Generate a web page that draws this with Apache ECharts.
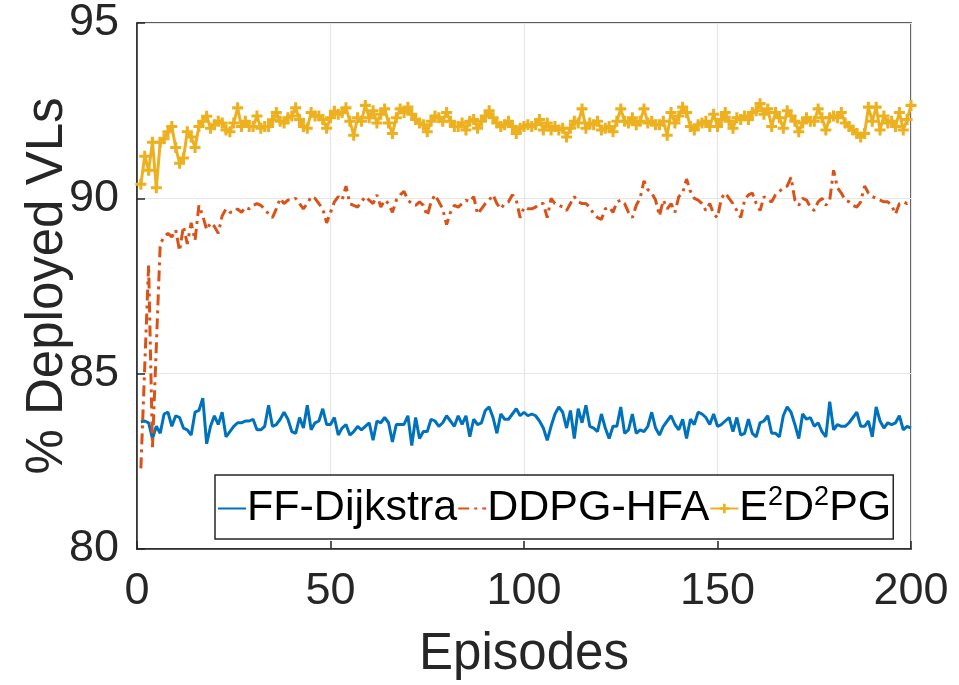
<!DOCTYPE html>
<html>
<head>
<meta charset="utf-8">
<script src="https://cdn.jsdelivr.net/npm/echarts@6/dist/echarts.min.js"></script>
<style>html,body{margin:0;padding:0;background:#fff}#c{width:959px;height:685px}</style>
</head>
<body>
<div id="c"></div>
<script>
const seriesNames = ['FF-Dijkstra', 'DDPG-HFA', 'E2D2PG'];
const xTicks = [0, 50, 100, 150, 200];
const yTicks = [80, 85, 90, 95];

const ffDijkstra = [
83.63,83.65,83.6,83.15,83.5,83.3,83.85,83.9,83.5,83.8,83.75,83.45,83.4,83.25,83.9,83.95,84.3,83.0,83.5,83.8,
83.55,83.9,83.2,83.35,83.5,83.6,83.6,83.65,83.65,83.7,83.4,83.4,83.5,84.1,83.5,83.55,83.7,83.9,83.7,83.35,
83.3,83.75,83.45,84.1,83.4,83.6,83.65,84.0,83.55,83.55,83.75,83.25,83.45,83.55,83.25,83.35,83.5,83.4,83.5,83.6,
83.1,83.65,83.6,83.75,83.6,83.05,83.55,83.55,83.55,83.8,82.95,83.75,83.15,83.35,83.35,83.7,83.65,83.5,83.6,83.8,
83.65,83.5,83.8,83.55,83.8,83.2,83.7,83.55,83.6,83.95,84.05,83.75,83.3,83.85,83.7,83.7,83.85,84.0,83.8,83.9,
83.8,83.85,83.8,83.65,83.45,83.1,83.5,83.85,84.05,83.9,83.45,83.95,83.15,84.0,83.6,84.1,83.5,83.45,83.35,83.85,
83.45,83.15,83.5,83.5,84.05,83.3,83.4,83.85,83.3,83.4,83.35,83.5,83.9,83.45,83.25,83.5,83.65,83.8,83.55,83.4,
83.7,83.15,83.7,83.55,83.9,83.85,83.75,83.55,83.85,83.5,83.55,83.65,83.75,83.35,83.75,83.25,83.3,83.7,83.3,83.2,
83.6,83.65,83.8,83.3,83.3,83.2,83.8,84.05,83.9,83.55,83.15,83.85,83.7,83.75,83.5,83.6,83.35,83.2,84.2,83.4,
83.55,83.5,83.5,83.6,83.75,83.9,83.5,83.5,83.65,83.2,84.05,83.65,83.45,83.6,83.55,83.6,83.8,83.4,83.5,83.45
];

const ddpgHfa = [
82.3,85.2,88.1,82.9,85.8,88.7,88.9,89.0,88.9,89.1,88.5,89.2,88.7,89.3,88.8,89.8,89.5,89.1,89.3,89.2,
89.0,89.5,89.7,89.6,89.6,89.7,89.6,89.75,89.7,89.8,89.85,89.8,89.7,89.55,89.45,89.7,90.0,89.85,89.95,89.95,
90.0,89.85,89.7,89.85,90.05,90.0,89.85,89.7,89.3,89.6,89.9,90.05,89.95,90.35,89.85,89.8,89.75,89.9,90.05,89.95,
89.85,90.1,89.75,89.95,89.85,89.6,89.95,90.1,90.2,89.95,89.85,89.8,89.9,89.8,89.5,89.9,90.1,89.9,89.7,89.25,
89.6,89.8,89.75,89.85,89.95,89.9,90.05,89.55,89.7,89.85,89.95,90.1,89.85,89.7,89.85,89.9,90.1,89.95,89.45,89.75,
89.7,89.7,89.75,89.85,89.85,89.45,90.0,89.85,89.8,89.75,89.65,89.85,90.05,89.9,89.85,89.85,89.75,89.55,89.45,89.4,
89.7,89.75,89.6,89.9,89.95,89.85,89.6,89.45,89.8,90.0,90.5,90.25,90.15,89.95,89.5,89.95,89.7,89.85,89.6,90.05,
90.15,90.55,90.2,90.0,89.95,89.85,89.65,89.85,89.55,89.45,90.0,90.15,90.0,89.85,89.65,89.45,89.95,90.1,90.15,89.85,
89.65,90.05,89.95,89.9,90.1,90.2,90.3,90.35,90.6,89.95,89.8,90.0,89.95,89.75,89.65,89.9,90.0,89.8,89.95,90.8,
90.3,90.15,89.95,89.9,89.8,89.75,89.9,90.35,90.15,90.05,90.0,89.95,89.9,89.9,89.8,89.55,89.85,89.9,89.85,89.95
];

const e2d2pg = [
90.4,91.2,90.8,91.6,90.3,91.6,91.7,91.9,92.05,91.45,91.0,91.15,91.9,91.75,91.45,92.05,92.2,92.34,92.0,92.1,
92.2,92.15,91.95,91.9,92.15,92.58,92.05,92.2,92.05,92.05,92.35,92.0,92.05,92.05,92.24,92.45,92.2,92.15,92.3,92.35,
92.58,92.25,92.05,92.0,92.45,92.35,92.35,92.25,92.0,92.3,92.48,92.4,92.45,92.58,92.2,91.8,92.3,92.2,92.65,92.3,
92.5,92.15,92.4,92.55,92.15,91.85,92.3,92.55,92.45,92.6,92.4,92.25,92.15,92.1,91.9,92.2,92.35,92.3,92.2,92.45,
92.2,92.05,92.05,92.15,91.95,92.2,92.25,92.0,92.2,92.35,92.5,92.3,92.15,92.05,92.1,92.2,92.05,91.85,92.0,92.05,
92.1,92.05,92.1,92.25,91.95,92.15,91.95,92.05,91.95,92.0,91.75,92.0,92.2,92.15,92.55,92.0,92.15,92.1,92.2,91.95,
92.0,92.05,91.9,92.2,92.55,92.2,92.15,92.3,92.1,92.2,92.55,92.15,92.2,92.1,92.1,92.2,91.8,92.45,92.15,92.35,
92.6,92.45,92.05,91.95,92.1,92.15,92.2,92.05,92.4,92.05,92.25,92.45,92.2,92.0,92.3,92.25,92.35,92.25,92.45,92.5,
92.7,92.4,92.55,92.05,92.45,92.3,92.0,92.5,92.35,92.2,91.9,92.15,92.3,92.2,92.2,92.55,92.3,91.95,92.3,92.35,
92.3,92.45,92.15,92.05,91.95,91.85,91.75,91.85,92.6,92.2,92.6,91.95,92.35,92.15,92.2,92.05,92.45,91.95,92.25,92.65
];

const toPairs = arr => arr.map((v, i) => [i + 1, v]);
const plusPath = 'path://M3.6,0H6.4V3.6H10V6.4H6.4V10H3.6V6.4H0V3.6H3.6Z';
const FONT = '"Liberation Sans", Arial, Helvetica, sans-serif';
const TXT = '#262626';
const hidden = {color: 'rgba(0,0,0,0)', borderColor: 'rgba(0,0,0,0)', borderWidth: 0};

const chart = echarts.init(document.getElementById('c'), null, {renderer: 'canvas'});
chart.setOption({
  animation: false,
  backgroundColor: '#fff',
  grid: {left: 137, right: 48, top: 23, bottom: 134, show: true, borderColor: '#262626', borderWidth: 1.5, backgroundColor: '#fff'},
  xAxis: {
    type: 'value', min: xTicks[0], max: xTicks[xTicks.length - 1], interval: 50,
    name: 'Episodes', nameLocation: 'middle', nameGap: 80, nameMoveOverlap: false,
    nameTextStyle: {fontSize: 51, color: TXT, fontFamily: FONT},
    axisLine: {show: true, lineStyle: {color: '#262626', width: 1.5}},
    axisTick: {show: true, inside: true, length: 8, lineStyle: {color: '#262626', width: 1.5}},
    axisLabel: {fontSize: 45, color: TXT, fontFamily: FONT, margin: 20},
    splitLine: {show: true, lineStyle: {color: '#e6e6e6', width: 1.2}}
  },
  yAxis: {
    type: 'value', min: yTicks[0], max: yTicks[yTicks.length - 1], interval: 5,
    name: '% Deployed VLs', nameLocation: 'middle', nameGap: 64, nameMoveOverlap: false,
    nameTextStyle: {fontSize: 51, color: TXT, fontFamily: FONT},
    axisLine: {show: true, lineStyle: {color: '#262626', width: 1.5}},
    axisTick: {show: true, inside: true, length: 8, lineStyle: {color: '#262626', width: 1.5}},
    axisLabel: {fontSize: 45, color: TXT, fontFamily: FONT, margin: 18},
    splitLine: {show: true, lineStyle: {color: '#e6e6e6', width: 1.2}}
  },
  legend: {
    left: 215, top: 475, orient: 'horizontal',
    backgroundColor: '#fff', borderColor: '#262626', borderWidth: 1.5,
    padding: [9, 2, 9, 2], itemGap: 0, itemWidth: 28, itemHeight: 12,
    textStyle: {fontSize: 43, color: '#000', fontFamily: FONT, padding: [0, 0, 0, -4],
      rich: {sup: {fontSize: 27, fontFamily: FONT, color: '#000', padding: [0, 0, 22, 0]}}},
    formatter: function (name) {
      if (name === 'E2D2PG') return 'E{sup|2}D{sup|2}PG';
      return name;
    },
    data: [
      {name: seriesNames[0], itemStyle: hidden},
      {name: seriesNames[1], itemStyle: hidden},
      {name: seriesNames[2]}
    ]
  },
  series: [
    {name: seriesNames[0], type: 'line', data: toPairs(ffDijkstra), showSymbol: false, symbol: 'none',
      lineStyle: {color: '#0072BD', width: 3}, itemStyle: {color: '#0072BD'}},
    {name: seriesNames[1], type: 'line', data: toPairs(ddpgHfa), showSymbol: false, symbol: 'none',
      lineStyle: {color: '#D95319', width: 3, type: [11, 5, 3, 5]}, itemStyle: {color: '#D95319'}},
    {name: seriesNames[2], type: 'line', data: toPairs(e2d2pg), symbol: plusPath, symbolSize: 11, showSymbol: true,
      lineStyle: {color: '#EDB120', width: 3}, itemStyle: {color: '#EDB120'}}
  ]
});
</script>
</body>
</html>
